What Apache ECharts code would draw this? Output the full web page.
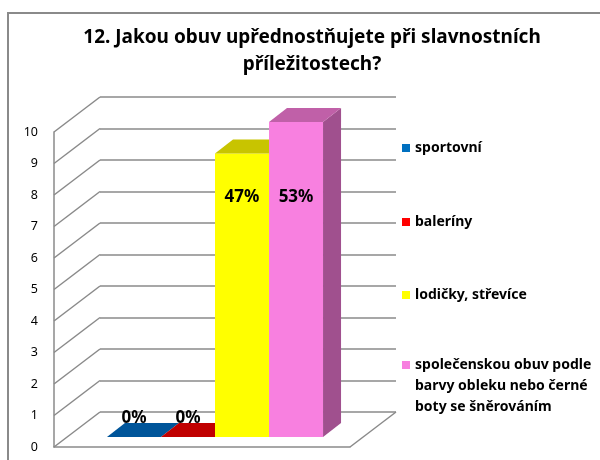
<!DOCTYPE html>
<html>
<head>
<meta charset="utf-8">
<script src="https://cdn.jsdelivr.net/npm/echarts@6/dist/echarts.min.js"></script>
<style>
  html, body { margin: 0; padding: 0; background: #fff; }
  #chart { width: 600px; height: 460px; }
</style>
</head>
<body>
<div id="chart"></div>
<script>
// odpovědi (názvy řad v legendě)
const categories = [
  'sportovní',
  'baleríny',
  'lodičky, střevíce',
  'společenskou obuv podle\nbarvy obleku nebo černé\nboty se šněrováním'
]
// počet odpovědí
const counts = [0, 0, 9, 10]
// osa y 0..10
const yTicks = [0, 1, 2, 3, 4, 5, 6, 7, 8, 9, 10]

const total = counts.reduce((a, b) => a + b, 0)

// barvy: legenda, přední stěna, horní stěna, boční stěna
const colors = [
  { main: '#0070c0', front: '#0070c0', top: '#00559a', side: '#004a80' },
  { main: '#ff0000', front: '#ff0000', top: '#c00000', side: '#a00000' },
  { main: '#ffff00', front: '#ffff00', top: '#c8c400', side: '#b0ac00' },
  { main: '#f77fdf', front: '#f880e0', top: '#c060a8', side: '#a0508e' }
]

// 3D posuny (px)
const wallDx = 46, wallDy = -35
const barDx = 18, barDy = -14
const barShiftX = 13, barShiftY = -10
const labelLevel = 7.6

var chartDom = document.getElementById('chart')
var myChart = echarts.init(chartDom)

function wallRender (params, api) {
  const cs = params.coordSys
  const v = api.value(0)
  const y = api.coord([0, v])[1]
  const lineStyle = { stroke: '#8a8a8a', lineWidth: 1.5 }
  const children = [{
    type: 'line',
    shape: { x1: cs.x, y1: y, x2: cs.x + wallDx, y2: y + wallDy },
    style: lineStyle
  }]
  if (v === 0) {
    children.push({
      type: 'line',
      shape: { x1: cs.x + cs.width, y1: y, x2: cs.x + cs.width + wallDx, y2: y + wallDy },
      style: lineStyle
    })
  }
  return { type: 'group', children: children }
}

function makeBar (i) {
  return function (params, api) {
    const v = api.value(1)
    const base = api.coord([0, 0])
    const top = api.coord([0, v])
    const bw = api.size([1, 0])[0] * 0.73 / 4
    const x0 = base[0] + (i - 2) * bw + barShiftX
    const x1 = x0 + bw
    const yB = base[1] + barShiftY
    const yT = top[1] + barShiftY
    const c = colors[i]
    const children = []
    if (v > 0) {
      children.push({
        type: 'rect',
        shape: { x: x0, y: yT, width: bw, height: yB - yT },
        style: { fill: c.front }
      })
      children.push({
        type: 'polygon',
        shape: { points: [[x1, yT], [x1 + barDx, yT + barDy], [x1 + barDx, yB + barDy], [x1, yB]] },
        style: { fill: c.side }
      })
    }
    children.push({
      type: 'polygon',
      shape: { points: [[x0, yT], [x1, yT], [x1 + barDx, yT + barDy], [x0 + barDx, yT + barDy]] },
      style: { fill: c.top }
    })
    const ly = v > 0 ? api.coord([0, labelLevel])[1] + barShiftY : yT - 19
    children.push({
      type: 'text',
      style: {
        text: Math.round(v / total * 100) + '%',
        x: (x0 + x1) / 2,
        y: ly,
        align: 'center',
        verticalAlign: 'middle',
        font: 'bold 17px "Noto Sans"',
        fill: '#000'
      }
    })
    return { type: 'group', children: children }
  }
}

// středy prvních řádků položek legendy
const legendCenters = [148, 222, 295, 365]
const legends = categories.map(function (name, i) {
  const lines = name.split('\n').length
  // víceřádková položka: prázdné řádky nahoře, aby ikona seděla u prvního řádku
  const pad = (lines - 1)
  return {
    data: [name],
    orient: 'vertical',
    left: 402,
    top: legendCenters[i] - (lines + pad) * 21 / 2,
    padding: 0,
    itemWidth: 8,
    itemHeight: 8,
    itemGap: 6,
    icon: 'rect',
    selectedMode: false,
    formatter: function (n) { return '\n'.repeat(pad) + n },
    textStyle: {
      fontFamily: 'Noto Sans',
      fontWeight: 'bold',
      fontSize: 14,
      lineHeight: 21,
      color: '#000'
    }
  }
})

var option = {
  animation: false,
  backgroundColor: '#fff',
  title: {
    text: '12. Jakou obuv upřednostňujete při slavnostních\npříležitostech?',
    left: 307,
    top: 19,
    textAlign: 'center',
    textStyle: {
      fontFamily: 'Noto Sans',
      fontWeight: 'bold',
      fontSize: 19,
      lineHeight: 27,
      color: '#000'
    }
  },
  graphic: [{
    type: 'rect',
    shape: { x: 8, y: 13, width: 640, height: 480 },
    style: { fill: 'none', stroke: '#8a8a8a', lineWidth: 2 },
    silent: true
  }],
  legend: legends,
  grid: [
    { left: 54, top: 132, width: 296, height: 315 },
    { left: 54 + wallDx, top: 132 + wallDy, width: 296, height: 315 }
  ],
  xAxis: [
    {
      gridIndex: 0,
      type: 'category',
      data: [''],
      axisLine: { show: true, lineStyle: { color: '#8a8a8a', width: 1.5 } },
      axisTick: { show: false },
      axisLabel: { show: false }
    },
    {
      gridIndex: 1,
      type: 'category',
      data: [''],
      show: false
    }
  ],
  yAxis: [
    {
      gridIndex: 0,
      type: 'value',
      min: 0,
      max: 10,
      interval: 1,
      axisLine: { show: true, lineStyle: { color: '#8a8a8a', width: 1.5 } },
      axisTick: { show: false },
      splitLine: { show: false },
      axisLabel: { margin: 16, fontSize: 12.5, color: '#000', fontFamily: 'Noto Sans' }
    },
    {
      gridIndex: 1,
      type: 'value',
      min: 0,
      max: 10,
      interval: 1,
      axisLine: { show: false },
      axisTick: { show: false },
      axisLabel: { show: false },
      splitLine: { show: true, lineStyle: { color: '#8a8a8a', width: 1.5 } }
    }
  ],
  series: [
    {
      type: 'custom',
      xAxisIndex: 0,
      yAxisIndex: 0,
      silent: true,
      data: yTicks.map(v => [v]),
      encode: { y: 0 },
      renderItem: wallRender,
      z: 1
    }
  ].concat(categories.map(function (name, i) {
    return {
      name: name,
      type: 'custom',
      xAxisIndex: 0,
      yAxisIndex: 0,
      itemStyle: { color: colors[i].main },
      data: [[0, counts[i]]],
      encode: { x: 0, y: 1 },
      renderItem: makeBar(i),
      z: 3
    }
  }))
}

option && myChart.setOption(option)
</script>
</body>
</html>
